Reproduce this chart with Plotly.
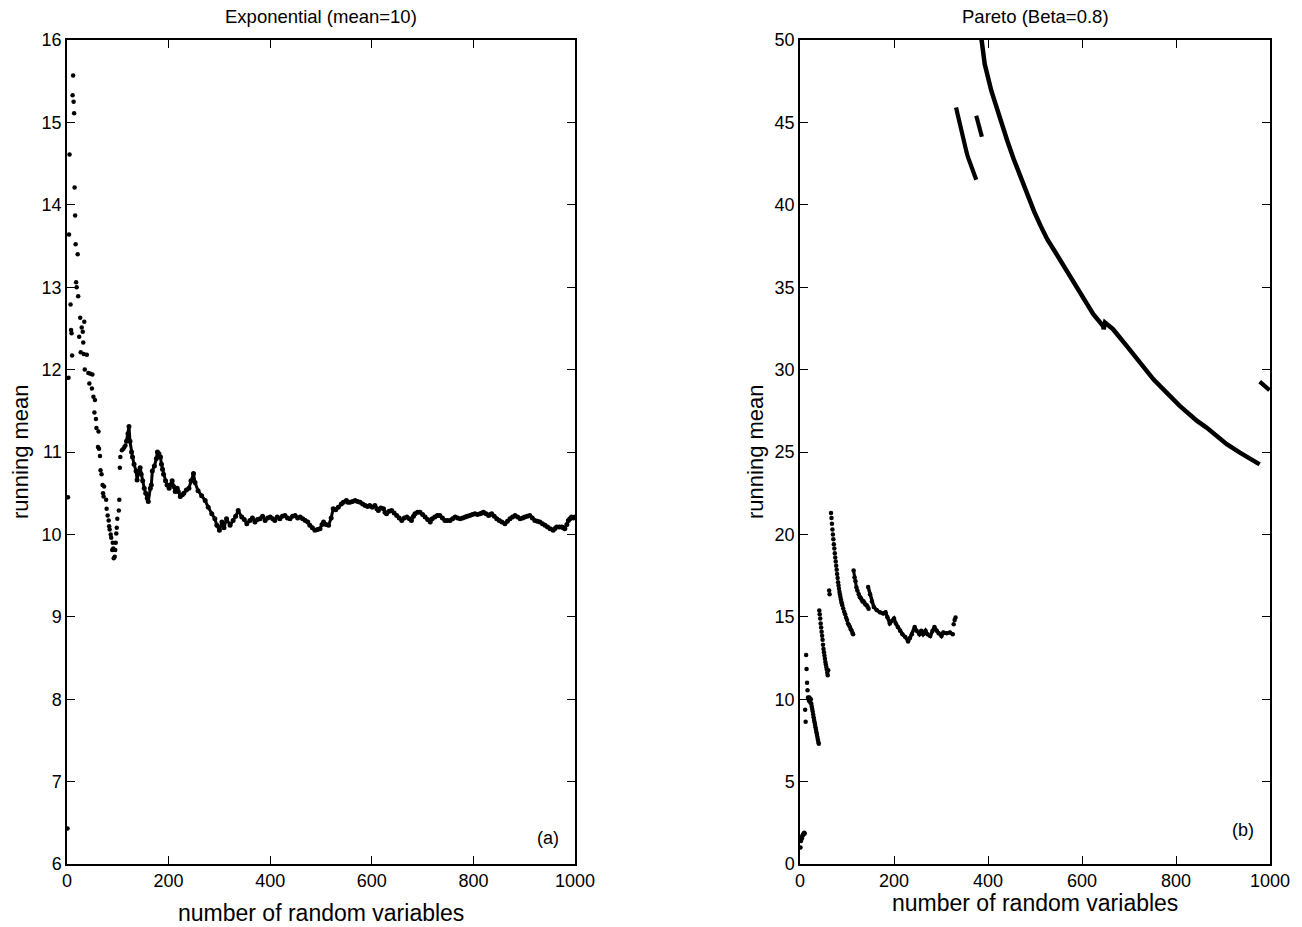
import plotly.graph_objects as go

# ---------------- Left panel: Exponential (mean=10) ----------------
exp_early_n = [1, 2, 3, 4, 5, 7, 8, 9, 10, 11, 12, 13, 14, 15, 16, 17, 18, 19, 21, 22, 24, 26, 27, 29,
               31, 32, 33, 34, 35, 39, 42, 44, 46, 49, 50, 52, 54, 55, 57, 58, 61, 62, 63, 65, 66, 68,
               70, 71, 72, 73, 77, 78, 80, 82, 83, 84, 86, 87, 89, 90, 91, 92, 94, 95, 96, 97, 98, 99,
               102, 103, 104, 105, 108, 111, 113, 115]
exp_early_mean = [6.43, 10.45, 11.90, 13.64, 14.61, 12.79, 12.48, 12.44, 12.17, 15.33, 15.57, 15.25, 15.11,
                  14.21, 13.87, 13.52, 13.06, 13.00, 13.40, 12.89, 12.40, 12.63, 12.21, 12.51, 12.46, 12.33,
                  12.19, 12.58, 12.00, 12.18, 11.96, 11.83, 11.95, 11.77, 11.94, 11.67, 11.48, 11.63, 11.40,
                  11.29, 11.06, 11.25, 11.04, 10.95, 10.78, 10.73, 10.60, 10.50, 10.46, 10.58, 10.42, 10.31,
                  10.23, 10.17, 10.10, 10.06, 10.00, 9.96, 9.81, 9.90, 9.83, 9.71, 9.73, 9.81, 9.90, 10.01,
                  10.08, 10.19, 10.29, 10.42, 10.81, 10.94, 11.02, 11.04, 11.06, 11.08]

exp_late_n = [117, 120, 122, 124, 127, 129, 132, 136, 138, 141, 144, 146, 149, 152, 155, 158, 160, 164,
              166, 168, 172, 176, 178, 181, 184, 186, 188, 190, 194, 197, 201, 203, 207, 210, 213, 217,
              219, 223, 227, 230, 235, 240, 244, 249, 252, 258, 265, 272, 278, 285, 291, 295, 300, 305,
              309, 314, 321, 327, 332, 337, 344, 349, 354, 360, 365, 370, 375, 380, 385, 390, 395, 400,
              405, 409, 414, 419, 424, 429, 434, 439, 444, 449, 454, 459, 464, 469, 474, 478, 483, 488,
              493, 498, 502, 505, 510, 515, 520, 524, 529, 534, 540, 544, 550, 553, 557, 562, 567, 572,
              577, 582, 587, 592, 596, 601, 606, 610, 613, 618, 623, 626, 629, 634, 639, 644, 649, 654,
              659, 664, 669, 674, 678, 682, 685, 690, 695, 700, 705, 710, 715, 719, 724, 729, 734, 739,
              744, 749, 754, 759, 764, 769, 774, 779, 784, 788, 793, 798, 803, 808, 813, 817, 820, 825,
              830, 833, 836, 841, 846, 851, 856, 862, 867, 872, 877, 882, 887, 892, 897, 901, 906, 911,
              916, 921, 926, 931, 936, 941, 946, 951, 957, 960, 964, 969, 974, 977, 980, 984, 987, 990,
              993, 997, 1000]
exp_late_mean = [11.13, 11.22, 11.31, 11.13, 11.00, 10.94, 10.85, 10.77, 10.66, 10.77, 10.81, 10.73,
                 10.65, 10.56, 10.50, 10.44, 10.40, 10.56, 10.60, 10.77, 10.83, 10.92, 11.00, 10.98,
                 10.94, 10.85, 10.79, 10.73, 10.65, 10.60, 10.56, 10.60, 10.65, 10.58, 10.52, 10.56,
                 10.52, 10.46, 10.48, 10.50, 10.54, 10.56, 10.65, 10.74, 10.63, 10.53, 10.47, 10.41,
                 10.33, 10.25, 10.19, 10.11, 10.05, 10.15, 10.08, 10.19, 10.11, 10.17, 10.22, 10.29,
                 10.21, 10.18, 10.13, 10.17, 10.20, 10.15, 10.18, 10.19, 10.22, 10.17, 10.20, 10.21,
                 10.19, 10.17, 10.21, 10.19, 10.22, 10.23, 10.20, 10.19, 10.22, 10.23, 10.20, 10.21,
                 10.19, 10.17, 10.15, 10.11, 10.08, 10.05, 10.06, 10.07, 10.12, 10.15, 10.12, 10.11,
                 10.20, 10.31, 10.30, 10.33, 10.37, 10.39, 10.41, 10.39, 10.39, 10.40, 10.41, 10.40,
                 10.39, 10.37, 10.35, 10.34, 10.35, 10.33, 10.35, 10.31, 10.29, 10.32, 10.31, 10.27,
                 10.25, 10.28, 10.29, 10.26, 10.23, 10.20, 10.17, 10.20, 10.21, 10.19, 10.17, 10.22,
                 10.25, 10.27, 10.27, 10.24, 10.21, 10.18, 10.15, 10.19, 10.21, 10.23, 10.23, 10.20,
                 10.17, 10.17, 10.17, 10.19, 10.21, 10.20, 10.19, 10.20, 10.21, 10.22, 10.23, 10.24,
                 10.25, 10.24, 10.25, 10.26, 10.27, 10.25, 10.23, 10.24, 10.25, 10.22, 10.19, 10.17,
                 10.15, 10.13, 10.16, 10.19, 10.21, 10.23, 10.21, 10.19, 10.20, 10.21, 10.22, 10.23,
                 10.20, 10.17, 10.16, 10.15, 10.13, 10.11, 10.09, 10.07, 10.05, 10.07, 10.09, 10.09,
                 10.09, 10.08, 10.07, 10.12, 10.17, 10.19, 10.21, 10.20, 10.21]

# ---------------- Right panel: Pareto (Beta=0.8) ----------------
par_dots_n = [1, 2, 3, 4, 5, 6, 7, 8, 9, 10,
              11, 12, 13, 14, 15, 16, 17, 18, 19, 20, 21, 22, 23, 24, 25, 26, 27, 28, 29, 30, 31, 32,
              33, 34, 35, 36, 37, 38, 39, 40,
              41, 42, 43, 44, 45, 46, 47, 48, 49, 50, 51, 52, 53, 54, 55, 56, 57, 58, 59, 60,
              62, 63,
              66, 67, 68, 69, 70, 71, 72, 73, 74, 75, 76, 77, 78, 79, 80, 81, 82, 83, 84, 85, 86, 87,
              88, 89, 90, 92, 94, 96, 98, 100, 102, 104, 106, 108, 110, 112, 113]
par_dots_mean = [1.0, 1.4, 1.6, 1.55, 1.7, 1.75, 1.8, 1.85, 1.9, 1.85,
                 9.36, 8.63, 12.68, 11.84, 11.0, 10.55, 10.1, 10.07, 9.9, 10.1, 9.96, 9.8, 10.0, 9.73,
                 9.55, 9.4, 9.25, 9.07, 8.9, 8.74, 8.6, 8.45, 8.3, 8.15, 8.0, 7.85, 7.7, 7.55, 7.41, 7.3,
                 15.38, 15.15, 14.9, 14.6, 14.35, 14.1, 13.85, 13.6, 13.3, 13.05, 12.85, 12.65, 12.45,
                 12.25, 12.1, 11.95, 11.8, 11.6, 11.45, 11.75,
                 16.59, 16.37,
                 21.3, 21.0, 20.65, 20.3, 20.0, 19.7, 19.4, 19.15, 18.85, 18.6, 18.35, 18.1, 17.85, 17.6,
                 17.35, 17.1, 16.9, 16.7, 16.5, 16.35, 16.2, 16.05, 15.9, 15.8, 15.7, 15.5, 15.3, 15.15,
                 14.95, 14.8, 14.6, 14.5, 14.4, 14.25, 14.15, 14.0, 13.94]

par_seg5_n = [114, 116, 118, 120, 122, 125, 127, 129, 131, 133, 135, 137, 139, 142, 144, 146]
par_seg5_mean = [17.81, 17.4, 17.15, 16.8, 16.6, 16.37, 16.2, 16.15, 16.05, 15.93, 15.95, 15.85,
                 15.75, 15.7, 15.6, 15.49]

par_seg6_n = [145, 149, 153, 157, 163, 170, 177, 182, 186, 191, 196, 200, 204, 208, 213, 218, 224,
              230, 234, 238, 244, 248, 254, 258, 262, 267, 271, 277, 282, 286, 291, 295, 301, 305,
              312, 319, 325]
par_seg6_mean = [16.81, 16.37, 15.93, 15.60, 15.42, 15.27, 15.20, 15.27, 14.98, 14.60, 14.76, 14.89,
                 14.60, 14.38, 14.16, 13.94, 13.78, 13.50, 13.72, 13.94, 14.38, 14.16, 13.94, 14.16,
                 13.94, 14.16, 13.94, 13.83, 14.16, 14.38, 14.16, 14.00, 13.83, 14.05, 14.00, 14.05,
                 13.94]
par_tail6_n = [327, 329, 331]
par_tail6_mean = [14.55, 14.8, 14.95]

par_seg7_n = [332, 341, 354, 357, 366, 375]
par_seg7_mean = [45.91, 44.70, 43.24, 42.92, 42.27, 41.52]

par_seg8_n = [375, 382, 387]
par_seg8_mean = [45.40, 44.70, 44.13]

par_seg9_n = [385, 393, 407, 422, 441, 455, 470, 484, 498, 512, 526, 546, 560, 582, 603, 624, 645,
              646, 649, 666, 695, 723, 752, 780, 808, 837, 844, 865, 894, 908, 936, 965, 978]
par_seg9_mean = [50.3, 48.54, 46.92, 45.50, 43.89, 42.75, 41.66, 40.55, 39.60, 38.72, 37.91, 37.00,
                 36.35, 35.38, 34.37, 33.36, 32.65, 32.45, 32.85, 32.45, 31.44, 30.43, 29.41, 28.60,
                 27.80, 27.08, 26.90, 26.48, 25.77, 25.47, 24.96, 24.45, 24.25]

par_seg10_n = [978, 986, 999]
par_seg10_mean = [29.27, 29.07, 28.75]

exp_yticks = list(range(6, 17))
par_yticks = list(range(0, 55, 5))
x_ticks = [0, 200, 400, 600, 800, 1000]

FONT = "Liberation Sans, Arial, Helvetica, sans-serif"
BLK = "black"

fig = go.Figure()


def dots(x, y, xa, ya, size=4.5):
    fig.add_trace(go.Scatter(x=x, y=y, mode="markers", xaxis=xa, yaxis=ya,
                             marker=dict(color=BLK, size=size, line=dict(width=0)),
                             showlegend=False, hoverinfo="skip"))


def thick(x, y, xa, ya, width=3.5, msize=4.5, markers=True):
    fig.add_trace(go.Scatter(x=x, y=y, mode="lines+markers" if markers else "lines",
                             xaxis=xa, yaxis=ya,
                             line=dict(color=BLK, width=width),
                             marker=dict(color=BLK, size=msize, line=dict(width=0)),
                             showlegend=False, hoverinfo="skip"))


dots(exp_early_n, exp_early_mean, "x", "y")
thick(exp_late_n, exp_late_mean, "x", "y", width=3, msize=5)

dots(par_dots_n, par_dots_mean, "x2", "y2")
thick(par_seg5_n, par_seg5_mean, "x2", "y2", width=3, msize=4.5)
thick(par_seg6_n, par_seg6_mean, "x2", "y2", width=3.5, msize=4.5)
dots(par_tail6_n, par_tail6_mean, "x2", "y2")
thick(par_seg7_n, par_seg7_mean, "x2", "y2", width=4.2, markers=False)
thick(par_seg8_n, par_seg8_mean, "x2", "y2", width=4.2, markers=False)
thick(par_seg9_n, par_seg9_mean, "x2", "y2", width=4.5, markers=False)
thick(par_seg10_n, par_seg10_mean, "x2", "y2", width=4.2, markers=False)

# page geometry (pixels)
W, H = 1302, 927
PL, PR, PT, PB = 67, 1270, 40, 864
pw = PR - PL
ph = PB - PT


def px2x(px):
    return (px - PL) / pw


def py2y(py):
    return (PB - py) / ph


axis_common = dict(showline=True, linecolor=BLK, linewidth=1.5, mirror="ticks", ticks="inside",
                   ticklen=8, tickwidth=1.2, tickcolor=BLK, showgrid=False, zeroline=False,
                   tickfont=dict(family=FONT, size=18, color=BLK))

fig.update_layout(
    width=W, height=H,
    margin=dict(l=PL, r=W - PR, t=PT, b=H - PB),
    paper_bgcolor="white", plot_bgcolor="white",
    xaxis=dict(domain=[0, px2x(575)], range=[0, 1000], tickvals=x_ticks, anchor="y", **axis_common),
    yaxis=dict(domain=[0, 1], range=[6, 16], tickvals=exp_yticks, anchor="x", **axis_common),
    xaxis2=dict(domain=[px2x(800), 1], range=[0, 1000], tickvals=x_ticks, anchor="y2", **axis_common),
    yaxis2=dict(domain=[0, 1], range=[0, 50], tickvals=par_yticks, anchor="x2", **axis_common),
    showlegend=False,
)

ann_font = dict(family=FONT, size=18.5, color=BLK)
xtitle_font = dict(family=FONT, size=23, color=BLK)
ytitle_font = dict(family=FONT, size=22, color=BLK)
small_font = dict(family=FONT, size=18, color=BLK)
annotations = [
    dict(text="Exponential (mean=10)", x=px2x(321), y=py2y(17)),
    dict(text="Pareto (Beta=0.8)", x=px2x(1035), y=py2y(17)),
    dict(text="number of random variables", x=px2x(321), y=py2y(913), font=xtitle_font),
    dict(text="number of random variables", x=px2x(1035), y=py2y(903), font=xtitle_font),
    dict(text="running mean", x=px2x(20), y=py2y(452), textangle=-90, font=ytitle_font),
    dict(text="running mean", x=px2x(755), y=py2y(452), textangle=-90, font=ytitle_font),
    dict(text="(a)", x=px2x(548), y=py2y(838), font=small_font),
    dict(text="(b)", x=px2x(1243), y=py2y(830), font=small_font),
]
for a in annotations:
    a.setdefault("font", ann_font)
    a.update(xref="paper", yref="paper", showarrow=False, xanchor="center", yanchor="middle")
fig.update_layout(annotations=annotations)

fig.write_html("out.html", config={"displayModeBar": False},
               post_script="document.body.style.margin='0';")
